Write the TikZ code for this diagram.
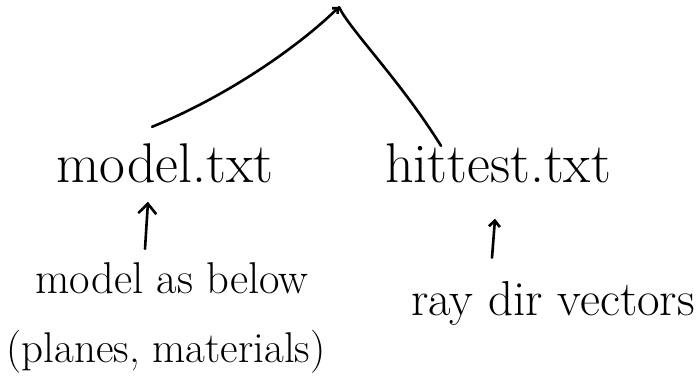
\documentclass[tikz,border=0pt]{standalone}
\usetikzlibrary{arrows.meta}
\begin{document}
\begin{tikzpicture}[x=1pt,y=-1pt, line width=2.6pt, line cap=round, line join=round,
 fname/.style={font=\fontsize{56}{62}\selectfont, inner sep=0pt, anchor=base},
 note/.style={inner sep=0pt, anchor=base},
 arr/.style={-{Straight Barb[length=10pt,width=18pt]}},
 smallarr/.style={-{Straight Barb[length=6pt,width=11pt]}}]
\useasboundingbox (0,0) rectangle (698,383);
\coordinate (top) at (339,7);
\node[fname] (model) at (165,182) {model.txt};
\node[fname] (hit) at (498,182) {hittest.txt};
\node[note, font=\fontsize{44.5}{50}\selectfont] (src) at (172,293) {model as below};
\node[note, font=\fontsize{43}{49}\selectfont] (mat) at (166,362) {(planes, materials)};
\node[note, font=\fontsize{49}{55}\selectfont] (ray) at (553,315) {ray dir vectors};
% tree branches
\draw[-{Straight Barb[length=4pt,width=8pt]}] ([xshift=-13pt,yshift=15pt]model.north) .. controls (230,95) and (300,45) .. (top);
\draw (top) .. controls (350,30) and (400,80) .. ([xshift=-57pt,yshift=-4pt]hit.north);
% input arrows
\draw[arr] ([xshift=-27pt,yshift=12pt]src.north) -- ([xshift=-17pt,yshift=-18pt]model.south);
\draw[smallarr] ([xshift=-61pt,yshift=22pt]ray.north) -- ([xshift=-3pt,yshift=-35pt]hit.south);
\end{tikzpicture}
\end{document}
